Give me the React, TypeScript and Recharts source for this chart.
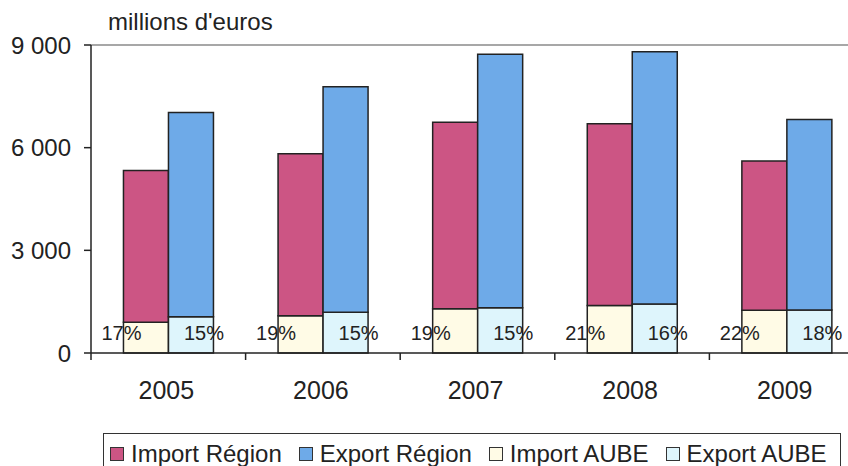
import { Bar, BarChart, LabelList, Legend, ReferenceLine, XAxis, YAxis } from 'recharts';

const years = ['2005', '2006', '2007', '2008', '2009'];
// totaux région (millions d'euros)
const importRegion = [5330, 5820, 6740, 6700, 5610];
const exportRegion = [7030, 7780, 8730, 8800, 6820];
// part de l'Aube
const importAube = [900, 1090, 1295, 1390, 1250];
const exportAube = [1060, 1190, 1325, 1430, 1255];
const importPct = [17, 19, 19, 21, 22];
const exportPct = [15, 15, 15, 16, 18];
const yTicks = [0, 3000, 6000, 9000];

const COLORS = {
  importRegion: '#cc5584',
  exportRegion: '#6eaae8',
  importAube: '#fffbe6',
  exportAube: '#def5fc',
};

const FONT = '"Liberation Sans", Arial, sans-serif';
const INK = '#222';

const data = years.map((year, i) => ({
  year,
  importAube: importAube[i],
  importRest: importRegion[i] - importAube[i],
  exportAube: exportAube[i],
  exportRest: exportRegion[i] - exportAube[i],
}));

const legendItems = [
  { name: 'Import Région', color: COLORS.importRegion },
  { name: 'Export Région', color: COLORS.exportRegion },
  { name: 'Import AUBE', color: COLORS.importAube },
  { name: 'Export AUBE', color: COLORS.exportAube },
];

const fmt = (v: number) => String(v).replace(/\B(?=(\d{3})+(?!\d))/g, ' ');

function YearTick(props: any) {
  const { x, y, payload } = props;
  const off = payload.offset ?? 0;
  return (
    <g>
      <line x1={x - off} x2={x - off} y1={y} y2={y + 7} stroke={INK} strokeWidth={1.5} />
      <text x={x - 2} y={y + 46} textAnchor="middle" fontSize={25} fill={INK} fontFamily={FONT}>
        {payload.value}
      </text>
    </g>
  );
}

function pctLabel(pcts: number[], side: 'left' | 'right') {
  return (p: any) => {
    const { x, y, width, height, index } = p;
    const cx = side === 'left' ? x - 2 : x + width / 2 + 13;
    return (
      <text
        x={cx}
        y={y + height - 20}
        textAnchor="middle"
        dominantBaseline="central"
        fontSize={20}
        fill={INK}
        fontFamily={FONT}
      >
        {pcts[index]}%
      </text>
    );
  };
}

function LegendBox() {
  return (
    <div
      style={{
        boxSizing: 'border-box',
        width: 738,
        height: 40,
        border: '1px solid #333',
        borderBottom: 'none',
        display: 'flex',
        alignItems: 'center',
        padding: '0 0 0 6px',
        fontFamily: FONT,
        fontSize: 24,
        lineHeight: '24px',
        color: INK,
        whiteSpace: 'nowrap',
        overflow: 'hidden',
      }}
    >
      {legendItems.map((d) => (
        <div key={d.name} style={{ display: 'flex', alignItems: 'center', marginRight: 17, flexShrink: 0 }}>
          <span
            style={{
              width: 12,
              height: 12,
              border: '1px solid #333',
              background: d.color,
              marginRight: 7,
              display: 'inline-block',
              flexShrink: 0,
            }}
          />
          <span>{d.name}</span>
        </div>
      ))}
    </div>
  );
}

export default function App() {
  return (
    <div
      style={{
        position: 'absolute',
        left: 0,
        top: 0,
        width: 848,
        height: 466,
        overflow: 'hidden',
        background: '#fff',
        fontFamily: FONT,
      }}
    >
      <div style={{ position: 'absolute', left: 108, top: 8, fontSize: 24, color: INK }}>
        millions d'euros
      </div>
      <BarChart
        width={864}
        height={466}
        data={data}
        margin={{ top: 45, right: 0, left: 0, bottom: 53 }}
        barGap={0}
        barCategoryGap="21%"
      >
        <ReferenceLine y={9000} stroke="#8a8a8a" strokeWidth={1.5} />
        <XAxis
          dataKey="year"
          height={60}
          tickLine={false}
          tickSize={0}
          tickMargin={0}
          axisLine={{ stroke: INK, strokeWidth: 1.5 }}
          tick={<YearTick />}
          interval={0}
        />
        <YAxis
          width={91}
          domain={[0, 9000]}
          ticks={yTicks}
          tickFormatter={fmt}
          tickSize={7}
          tickMargin={13}
          axisLine={{ stroke: INK, strokeWidth: 1.5 }}
          tickLine={{ stroke: INK, strokeWidth: 1.5 }}
          tick={{ fontSize: 24, fill: INK, fontFamily: FONT }}
        />
        <Legend
          layout="horizontal"
          verticalAlign="middle"
          align="center"
          wrapperStyle={{ left: 103, top: 433, width: 738, height: 40 }}
          content={() => <LegendBox />}
        />
        <Bar dataKey="importAube" stackId="imp" fill={COLORS.importAube} stroke={INK} strokeWidth={1.5} isAnimationActive={false}>
          <LabelList dataKey="importAube" content={pctLabel(importPct, 'left')} />
        </Bar>
        <Bar dataKey="importRest" stackId="imp" fill={COLORS.importRegion} stroke={INK} strokeWidth={1.5} isAnimationActive={false} />
        <Bar dataKey="exportAube" stackId="exp" fill={COLORS.exportAube} stroke={INK} strokeWidth={1.5} isAnimationActive={false}>
          <LabelList dataKey="exportAube" content={pctLabel(exportPct, 'right')} />
        </Bar>
        <Bar dataKey="exportRest" stackId="exp" fill={COLORS.exportRegion} stroke={INK} strokeWidth={1.5} isAnimationActive={false} />
      </BarChart>
    </div>
  );
}
